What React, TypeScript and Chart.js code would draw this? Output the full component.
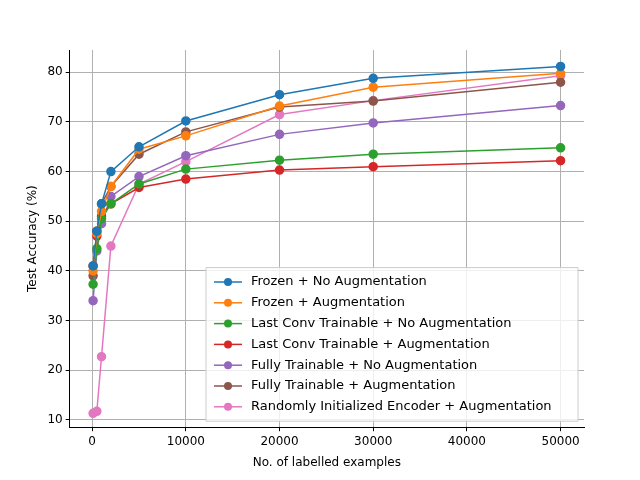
import React, { useEffect, useRef } from "react";
import { Chart, registerables } from "chart.js";
Chart.register(...registerables);

const xs = [100, 500, 1000, 2000, 5000, 10000, 20000, 30000, 50000];
const names = [
  "Frozen + No Augmentation",
  "Frozen + Augmentation",
  "Last Conv Trainable + No Augmentation",
  "Last Conv Trainable + Augmentation",
  "Fully Trainable + No Augmentation",
  "Fully Trainable + Augmentation",
  "Randomly Initialized Encoder + Augmentation",
];
const colors = ["#1f77b4", "#ff7f0e", "#2ca02c", "#d62728", "#9467bd", "#8c564b", "#e377c2"];
const values = [
  [41, 48, 53.5, 60, 65, 70.2, 75.5, 78.8, 81.2],
  [40, 47.5, 52, 57, 64.5, 67.2, 73.2, 77, 79.8],
  [37.3, 44.5, 50.5, 53.5, 57.5, 60.5, 62.3, 63.5, 64.8],
  [41, 47, 51, 53.5, 56.8, 58.5, 60.3, 61, 62.2],
  [34, 44, 49.5, 55, 59, 63.2, 67.5, 69.8, 73.3],
  [39, 48, 53.5, 57, 63.5, 68, 73, 74.2, 78],
  [11.3, 11.7, 22.7, 45, 57.5, 62, 71.5, 74.3, 79.3],
];

export default function App() {
  const ref = useRef<HTMLCanvasElement>(null);
  useEffect(() => {
    const font = { family: "DejaVu Sans", size: 12 };
    const chart = new Chart(ref.current!, {
      type: "line",
      data: {
        datasets: names.map((n, i) => ({
          label: n,
          data: xs.map((x, j) => ({ x, y: values[i][j] })),
          borderColor: colors[i],
          backgroundColor: colors[i],
          pointRadius: 4,
          borderWidth: 1.5,
        })),
      },
      options: {
        animation: false,
        responsive: false,
        layout: { padding: { top: 50, right: 56, bottom: 6, left: 22 } },
        scales: {
          x: {
            type: "linear", min: -2400, max: 52500,
            afterBuildTicks: (s: any) => { s.ticks = [0, 10000, 20000, 30000, 40000, 50000].map((v) => ({ value: v })); },
            ticks: { color: "#000", font, callback: (v: any) => String(v) },
            grid: { color: "#b0b0b0", tickColor: "#000", tickLength: 4 },
            border: { color: "#000" },
            title: { display: true, text: "No. of labelled examples", color: "#000", font },
          },
          y: {
            min: 8.5, max: 84.5,
            afterBuildTicks: (s: any) => { s.ticks = [10, 20, 30, 40, 50, 60, 70, 80].map((v) => ({ value: v })); },
            ticks: { color: "#000", font },
            grid: { color: "#b0b0b0", tickColor: "#000", tickLength: 4 },
            border: { color: "#000" },
            title: { display: true, text: "Test Accuracy (%)", color: "#000", font },
          },
        },
        plugins: {
          legend: { display: false },
          tooltip: { enabled: false },
        },
      },
      plugins: [{
        id: "boxlegend",
        afterDraw(c: any) {
          const ctx = c.ctx;
          const a = c.chartArea;
          const w = 372, lh = 20.8, h = names.length * lh + 8;
          const x0 = a.right - w - 6, y0 = a.bottom - h - 6;
          ctx.save();
          ctx.fillStyle = "rgba(255,255,255,0.8)";
          ctx.strokeStyle = "#ccc";
          ctx.lineWidth = 1;
          ctx.beginPath();
          ctx.rect(x0, y0, w, h);
          ctx.fill(); ctx.stroke();
          ctx.font = "13px 'DejaVu Sans'";
          ctx.textBaseline = "middle";
          names.forEach((n, i) => {
            const y = y0 + 4 + lh * (i + 0.5);
            ctx.strokeStyle = colors[i]; ctx.fillStyle = colors[i];
            ctx.lineWidth = 1.5;
            ctx.beginPath(); ctx.moveTo(x0 + 8, y); ctx.lineTo(x0 + 36, y); ctx.stroke();
            ctx.beginPath(); ctx.arc(x0 + 22, y, 4, 0, Math.PI * 2); ctx.fill();
            ctx.fillStyle = "#000";
            ctx.fillText(n, x0 + 45, y);
          });
          ctx.restore();
        },
      }],
    } as any);
    return () => chart.destroy();
  }, []);
  return <canvas ref={ref} width={640} height={480} style={{ display: "block", margin: "-8px" }} />;
}
